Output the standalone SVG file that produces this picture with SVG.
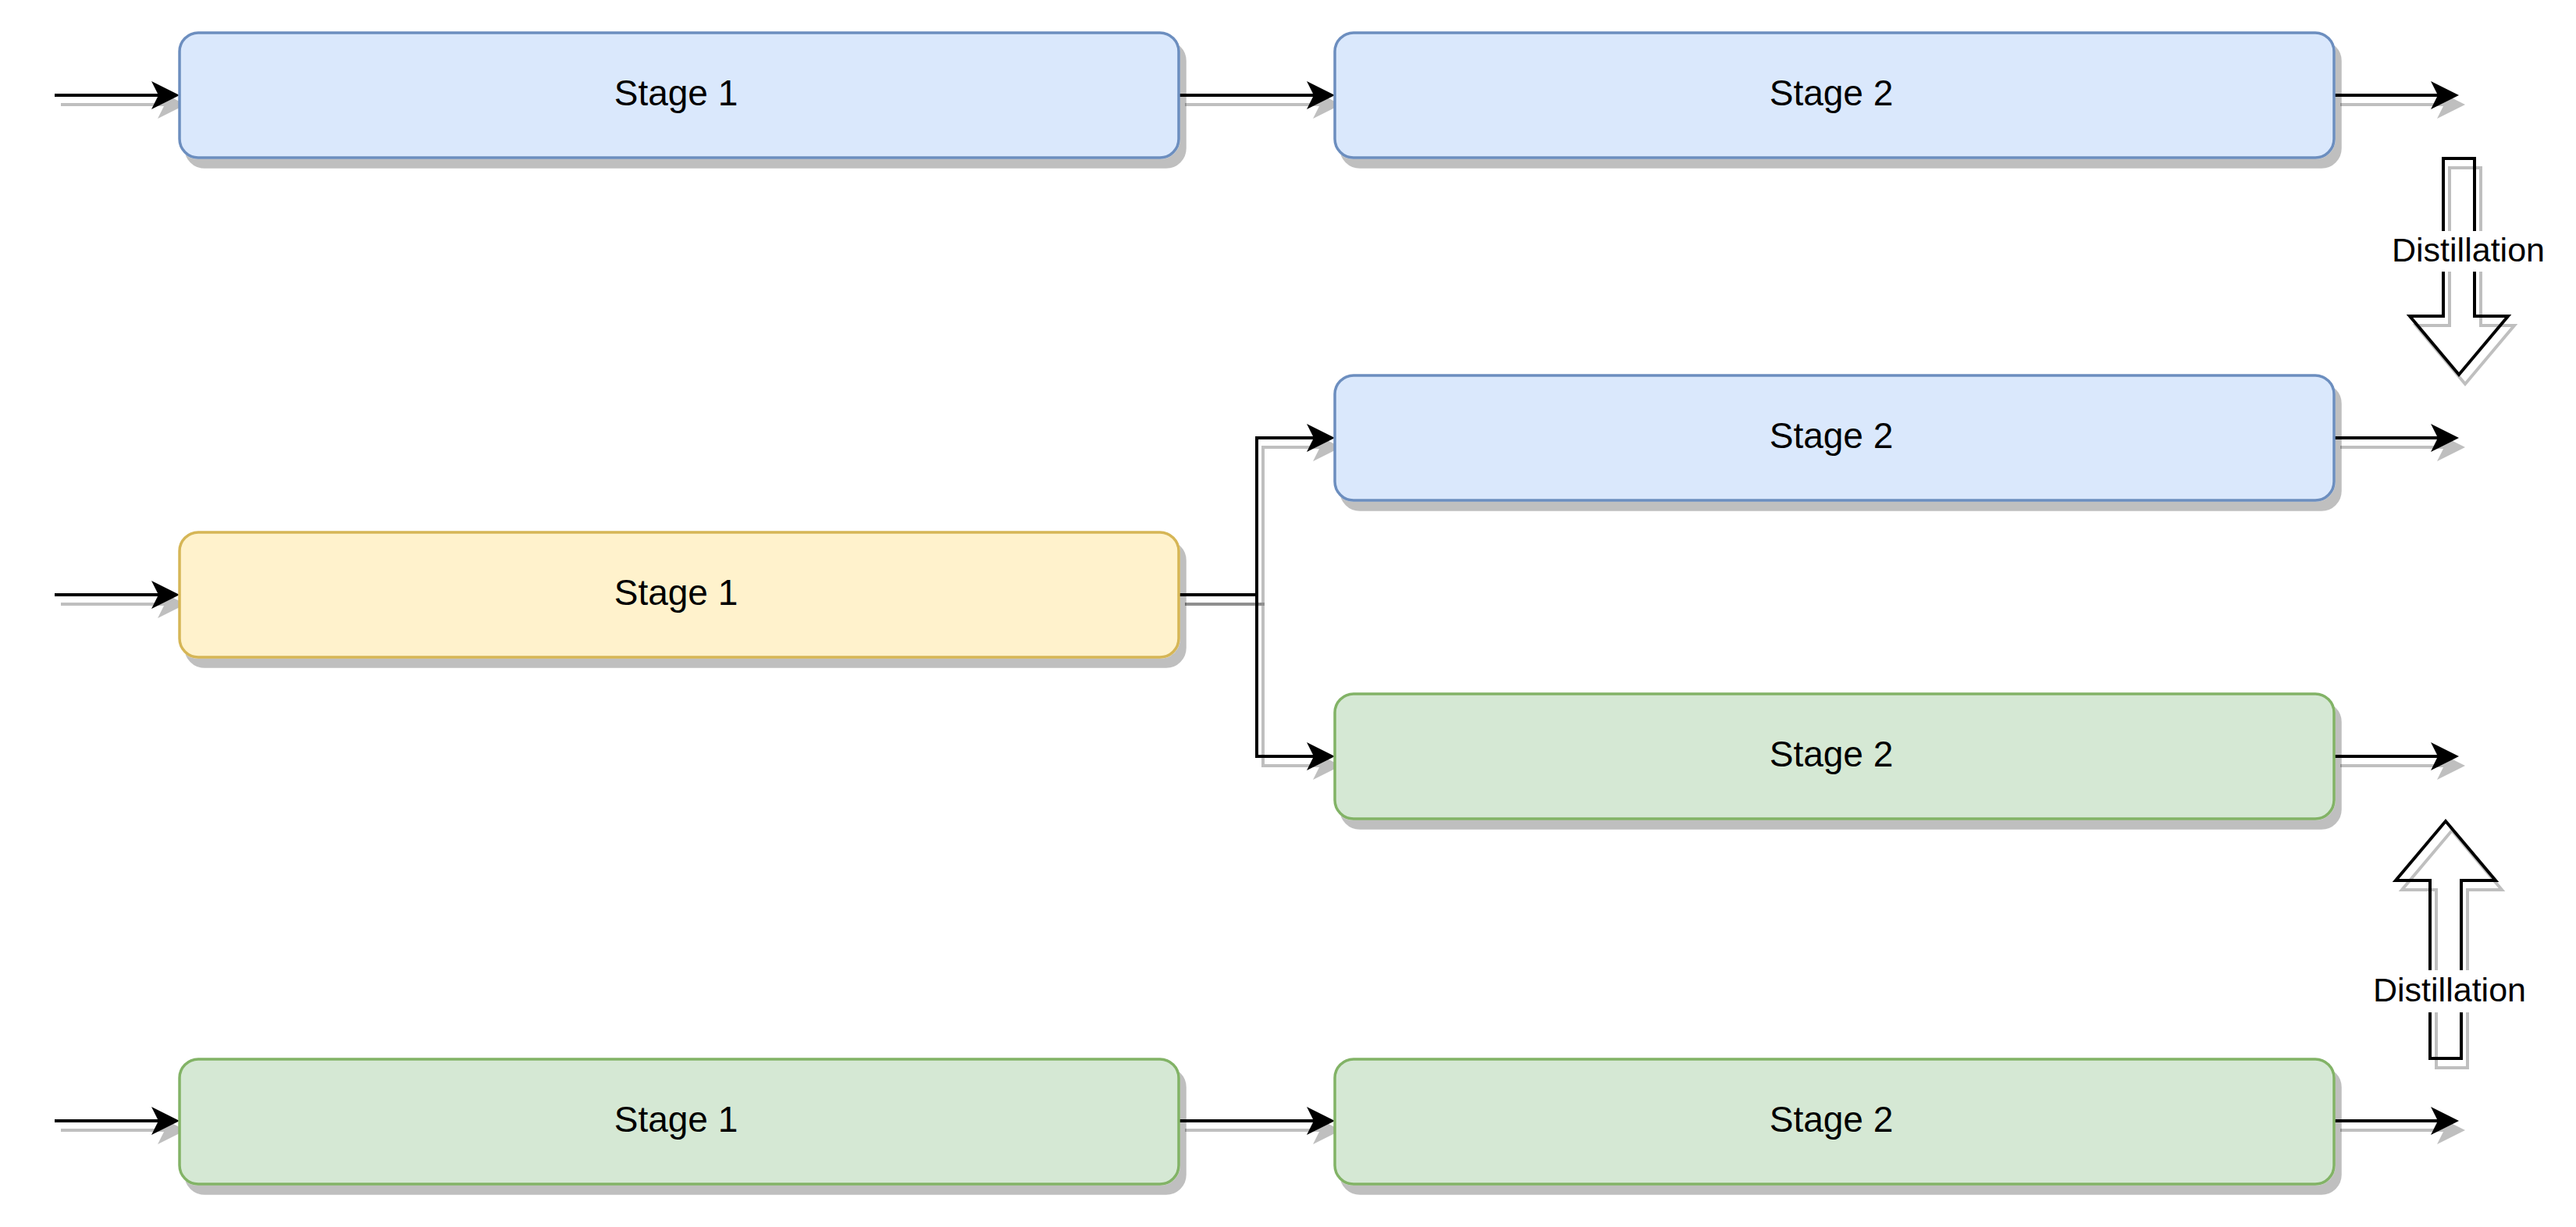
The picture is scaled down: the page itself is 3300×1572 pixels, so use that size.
<svg xmlns="http://www.w3.org/2000/svg" width="3300" height="1572" viewBox="0 0 3300 1572">
<defs>
<filter id="sh" filterUnits="userSpaceOnUse" x="0" y="0" width="3300" height="1572">
<feOffset in="SourceAlpha" dx="8" dy="12" result="o"/>
<feFlood flood-color="#000000" flood-opacity="0.25"/>
<feComposite in2="o" operator="in" result="s"/>
<feMerge><feMergeNode in="s"/><feMergeNode in="SourceGraphic"/></feMerge>
</filter>
<marker id="ah" markerUnits="userSpaceOnUse" viewBox="0 0 36 36" markerWidth="36" markerHeight="36" refX="26" refY="18" orient="auto">
<path d="M0,0 L36,18 L0,36 L9,18 Z" fill="#000"/>
</marker>
</defs>
<style>
.edge{fill:none;stroke:#000;stroke-width:4;marker-end:url(#ah);filter:url(#sh)}
.box{stroke-width:3.5;filter:url(#sh)}
.blue{fill:#dae8fc;stroke:#6c8ebf}
.yellow{fill:#fff2cc;stroke:#d6b656}
.green{fill:#d5e8d4;stroke:#82b366}
.lbl{font-family:"Liberation Sans",Arial,sans-serif;font-size:46px;fill:#000;text-anchor:middle}
.dlbl{font-family:"Liberation Sans",Arial,sans-serif;font-size:43px;fill:#000;text-anchor:middle}
.barrow{fill:none;stroke:#000;stroke-width:4;filter:url(#sh)}
</style>
<rect width="3300" height="1572" fill="#ffffff"/>
<g id="connectors">
<path class="edge" d="M70,122 H220"/>
<path class="edge" d="M1510,122 H1700"/>
<path class="edge" d="M2990,122 H3140"/>
<path class="edge" d="M2990,561 H3140"/>
<path class="edge" d="M70,762 H220"/>
<path class="edge" d="M1510,762 H1610 V561 H1700"/>
<path class="edge" d="M1510,762 H1610 V969 H1700"/>
<path class="edge" d="M2990,969 H3140"/>
<path class="edge" d="M70,1436 H220"/>
<path class="edge" d="M1510,1436 H1700"/>
<path class="edge" d="M2990,1436 H3140"/>
</g>
<g id="r1s1"><rect class="box blue" x="230" y="42" width="1280" height="160" rx="24" ry="24"/><text class="lbl" x="866" y="135">Stage 1</text></g>
<g id="r1s2"><rect class="box blue" x="1710" y="42" width="1280" height="160" rx="24" ry="24"/><text class="lbl" x="2346" y="135">Stage 2</text></g>
<g id="r2s2blue"><rect class="box blue" x="1710" y="481" width="1280" height="160" rx="24" ry="24"/><text class="lbl" x="2346" y="574">Stage 2</text></g>
<g id="r2s1"><rect class="box yellow" x="230" y="682" width="1280" height="160" rx="24" ry="24"/><text class="lbl" x="866" y="775">Stage 1</text></g>
<g id="r2s2green"><rect class="box green" x="1710" y="889" width="1280" height="160" rx="24" ry="24"/><text class="lbl" x="2346" y="982">Stage 2</text></g>
<g id="r3s1"><rect class="box green" x="230" y="1357" width="1280" height="160" rx="24" ry="24"/><text class="lbl" x="866" y="1450">Stage 1</text></g>
<g id="r3s2"><rect class="box green" x="1710" y="1357" width="1280" height="160" rx="24" ry="24"/><text class="lbl" x="2346" y="1450">Stage 2</text></g>
<g id="distill1">
<path class="barrow" d="M3130,203 H3170 V405 H3213 L3150,480 L3087,405 H3130 Z"/>
<rect x="3062" y="296" width="200" height="52" fill="#ffffff"/>
<text class="dlbl" x="3162" y="335">Distillation</text>
</g>
<g id="distill2">
<path class="barrow" d="M3113,1356 H3153 V1128 H3197 L3133,1052 L3069,1128 H3113 Z"/>
<rect x="3038" y="1243" width="200" height="54" fill="#ffffff"/>
<text class="dlbl" x="3138" y="1283">Distillation</text>
</g>
</svg>
